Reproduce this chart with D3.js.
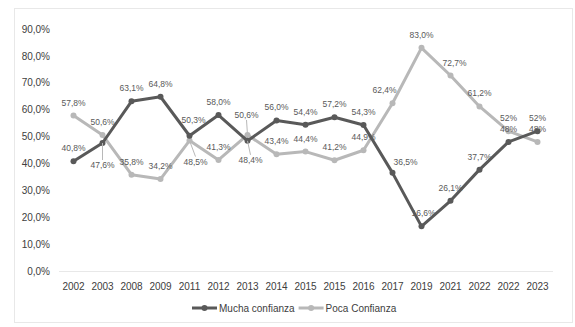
<!DOCTYPE html>
<html>
<head>
<meta charset="utf-8">
<script src="https://cdn.jsdelivr.net/npm/d3@7"></script>
<style>
  body { margin: 0; background: #fff; }
  svg { font-family: "Liberation Sans", Arial, sans-serif; }
</style>
</head>
<body>
<div id="chart"></div>
<script>
// chart data
var years = ["2002","2003","2008","2009","2011","2012","2013","2014","2015","2015","2016","2017","2019","2021","2022","2022","2023"];
var mucha = [40.8, 47.6, 63.1, 64.8, 50.3, 58.0, 48.4, 56.0, 54.4, 57.2, 54.3, 36.5, 16.6, 26.1, 37.7, 48, 52];
var poca  = [57.8, 50.6, 35.8, 34.2, 48.5, 41.3, 50.6, 43.4, 44.4, 41.2, 44.9, 62.4, 83.0, 72.7, 61.2, 52, 48];
// label text (last two points have no decimals in the original)
var muchaLabels = ["40,8%","47,6%","63,1%","64,8%","50,3%","58,0%","48,4%","56,0%","54,4%","57,2%","54,3%","36,5%","16,6%","26,1%","37,7%","48%","52%"];
var pocaLabels  = ["57,8%","50,6%","35,8%","34,2%","48,5%","41,3%","50,6%","43,4%","44,4%","41,2%","44,9%","62,4%","83,0%","72,7%","61,2%","52%","48%"];
var yTicks = [0, 10, 20, 30, 40, 50, 60, 70, 80, 90];

var width = 575, height = 327;
var margin = {top: 29, right: 23, bottom: 56, left: 59};

var svg = d3.select("#chart")
            .append("svg")
            .attr("width", width)
            .attr("height", height);

// outer frame
svg.append("rect")
   .attr("x", 14.5).attr("y", 8.5)
   .attr("width", 558).attr("height", 314)
   .attr("fill", "none")
   .attr("stroke", "#d0d0d0")
   .attr("stroke-dasharray", "1,1");

var g = svg.append("g")
           .attr("transform", "translate(" + margin.left + "," + margin.top + ")");

var w = width - margin.left - margin.right;   // 493
var h = 271 - margin.top;                      // 242

var x = d3.scaleBand()
          .domain(d3.range(years.length))
          .range([0, w]);
var y = d3.scaleLinear()
          .domain([0, 90])
          .range([h, 0]);

function cx(i) { return x(i) + x.bandwidth() / 2; }

// y axis labels
var yAxis = d3.axisLeft(y)
              .tickValues(yTicks)
              .tickSize(0)
              .tickPadding(9)
              .tickFormat(function(d){ return d.toFixed(1).replace(".", ",") + "%"; });
g.append("g")
 .attr("class", "y axis")
 .call(yAxis)
 .call(function(s){ s.select(".domain").remove(); })
 .selectAll("text")
   .attr("fill", "#404040")
   .style("font-size", "10px");

// x axis
var xAxis = d3.axisBottom(x)
              .tickSize(0)
              .tickPadding(12)
              .tickFormat(function(i){ return years[i]; });
g.append("g")
 .attr("class", "x axis")
 .attr("transform", "translate(0," + h + ")")
 .call(xAxis)
 .call(function(s){
   s.select(".domain")
    .attr("stroke", "#d0d0d0")
    .attr("stroke-dasharray", "1,1");
 })
 .selectAll("text")
   .attr("fill", "#404040")
   .style("font-size", "10px");

var series = [
  {name: "Mucha confianza", values: mucha, labels: muchaLabels, color: "#595959"},
  {name: "Poca Confianza",  values: poca,  labels: pocaLabels,  color: "#b8b8b8"}
];

// label placement tweaks: [dx, dy, leader]
var labelShift = {
  "0-1":  [0, 25, true],
  "0-4":  [4, -13, false],
  "0-6":  [3, 22, true],
  "0-11": [13, -8, false],
  "0-12": [2, -10, false],
  "1-4":  [6, 24, true],
  "1-6":  [-1, -17, true],
  "1-11": [-8, -10, false],
  "1-13": [4, -10, false],
  "1-16": [0, -10, false]
};

var line = d3.line()
             .x(function(d, i){ return cx(i); })
             .y(function(d){ return y(d); });

// draw light series first so the dark one sits on top
[1, 0].forEach(function(k){
  var s = series[k];
  g.append("path")
   .datum(s.values)
   .attr("fill", "none")
   .attr("stroke", s.color)
   .attr("stroke-width", 3)
   .attr("stroke-linejoin", "round")
   .attr("d", line);

  g.selectAll(".dot" + k)
   .data(s.values)
   .enter()
   .append("circle")
   .attr("cx", function(d, i){ return cx(i); })
   .attr("cy", function(d){ return y(d); })
   .attr("r", 3)
   .attr("fill", s.color);
});

// data labels
series.forEach(function(s, k){
  s.values.forEach(function(v, i){
    var shift = labelShift[k + "-" + i] || [0, -10, false];
    var px = cx(i), py = y(v);
    var lx = px + shift[0], ly = py + shift[1];
    if (shift[2]) {
      g.append("line")
       .attr("x1", px).attr("y1", py)
       .attr("x2", lx).attr("y2", shift[1] > 0 ? ly - 8 : ly + 2)
       .attr("stroke", "#b8b8b8")
       .attr("stroke-width", 1);
    }
    g.append("text")
     .attr("x", lx)
     .attr("y", ly)
     .attr("text-anchor", "middle")
     .attr("fill", "#595959")
     .style("font-size", "8.5px")
     .text(s.labels[i]);
  });
});

// legend
var legend = svg.append("g")
                .attr("transform", "translate(192,308)");
var lx0 = 0;
series.forEach(function(s){
  var item = legend.append("g").attr("transform", "translate(" + lx0 + ",0)");
  item.append("line")
      .attr("x1", 0).attr("x2", 25)
      .attr("y1", 0).attr("y2", 0)
      .attr("stroke", s.color)
      .attr("stroke-width", 3);
  item.append("circle")
      .attr("cx", 12.5).attr("cy", 0).attr("r", 3)
      .attr("fill", s.color);
  var t = item.append("text")
      .attr("x", 27)
      .attr("y", 3.5)
      .attr("fill", "#404040")
      .style("font-size", "10px")
      .text(s.name);
  lx0 += 27 + t.node().getComputedTextLength() + 4;
});
</script>
</body>
</html>
